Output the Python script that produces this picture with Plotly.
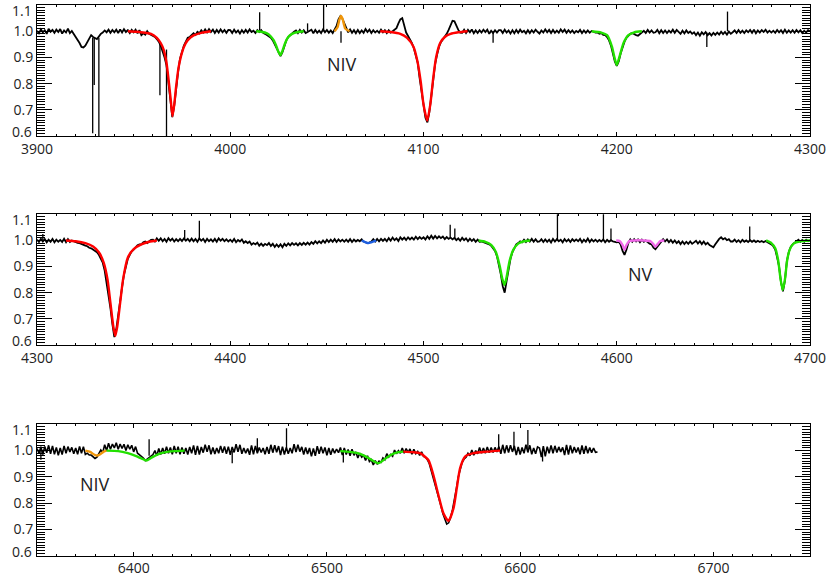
import numpy as np
import plotly.graph_objects as go

# ---------------- Panel 1 : 3900-4300 A (1 A sampling) ----------------
wl1 = np.arange(3900, 4300.1, 1)
flux1 = [
    1.002, 0.992, 1.007, 0.996, 1.004, 0.990, 1.009, 0.998, 1.005, 0.994, 1.006, 0.997, 1.008, 0.991, 1.003, 0.995, 1.010, 0.993, 1.001, 0.990,  # 3900
    0.982, 0.970, 0.955, 0.940, 0.938, 0.945, 0.958, 0.975, 0.985, 0.978, 0.975, 0.970, 0.980, 0.990, 0.995, 1.003, 0.996, 1.006, 0.994, 1.005,  # 3920
    0.996, 1.006, 0.993, 1.007, 0.995, 1.008, 0.997, 1.004, 0.993, 1.005, 0.996, 1.006, 0.992, 1.004, 0.985, 0.992, 0.987, 1.000, 0.990, 0.987,  # 3940
    0.982, 0.978, 0.970, 0.960, 0.945, 0.925, 0.900, 0.870, 0.810, 0.740, 0.672, 0.715, 0.785, 0.845, 0.895, 0.925, 0.945, 0.960, 0.975, 0.978,  # 3960
    0.985, 0.992, 0.986, 0.998, 0.992, 1.004, 0.995, 1.007, 0.996, 1.008, 0.997, 1.006, 0.993, 1.005, 0.995, 1.007, 0.996, 1.005, 0.994, 1.005,  # 3980
    1.004, 0.993, 1.006, 0.995, 1.003, 0.991, 1.004, 0.994, 1.005, 0.995, 1.007, 0.997, 1.002, 0.993, 1.004, 0.997, 1.004, 0.994, 0.990, 0.986,  # 4000
    0.982, 0.975, 0.965, 0.950, 0.935, 0.915, 0.905, 0.920, 0.948, 0.965, 0.978, 0.986, 0.992, 0.998, 1.003, 0.993, 1.005, 0.995, 1.004, 0.993,  # 4020
    0.997, 1.003, 1.006, 0.992, 1.005, 0.994, 1.002, 0.993, 1.007, 0.996, 1.005, 0.994, 1.003, 0.993, 1.004, 1.020, 1.045, 1.058, 1.048, 1.030,  # 4040
    1.008, 0.996, 1.007, 0.994, 1.004, 0.992, 1.005, 0.993, 1.003, 0.994, 1.008, 0.997, 1.006, 0.993, 1.004, 0.995, 1.002, 0.994, 1.006, 0.996,  # 4060
    1.004, 0.993, 1.004, 0.995, 1.000, 1.005, 1.012, 1.030, 1.045, 1.050, 1.020, 0.995, 0.982, 0.970, 0.955, 0.935, 0.910, 0.880, 0.820, 0.770,  # 4080
    0.715, 0.670, 0.652, 0.690, 0.750, 0.815, 0.875, 0.910, 0.940, 0.958, 0.968, 0.982, 0.990, 1.005, 1.020, 1.040, 1.038, 1.020, 1.005, 0.995,  # 4100
    0.994, 1.006, 0.993, 1.005, 0.996, 1.007, 0.992, 1.003, 0.993, 1.004, 0.995, 1.006, 0.997, 1.006, 0.990, 1.002, 0.993, 1.004, 0.995, 1.004,  # 4120
    1.004, 0.993, 1.006, 0.995, 1.003, 0.991, 1.004, 0.992, 1.005, 0.994, 1.006, 0.996, 1.002, 0.992, 1.004, 0.993, 1.004, 0.995, 1.006, 0.998,  # 4140
    0.991, 1.003, 0.995, 1.007, 0.996, 1.005, 0.993, 1.005, 0.994, 1.002, 0.994, 1.007, 0.997, 1.006, 0.994, 1.004, 0.995, 1.003, 0.993, 1.001,  # 4160
    0.996, 1.005, 0.993, 1.003, 0.994, 1.003, 0.994, 1.001, 0.997, 0.995, 0.995, 0.990, 0.993, 0.986, 0.985, 0.978, 0.965, 0.945, 0.915, 0.885,  # 4180
    0.868, 0.885, 0.915, 0.940, 0.960, 0.975, 0.982, 0.990, 0.993, 0.988, 0.985, 0.983, 0.990, 0.997, 1.002, 0.993, 1.005, 0.995, 1.003, 0.994,  # 4200
    0.996, 1.005, 0.992, 1.004, 0.993, 1.003, 0.993, 1.002, 0.995, 1.006, 0.994, 1.005, 0.997, 0.990, 1.002, 0.992, 1.003, 0.993, 0.999, 0.990,  # 4220
    0.996, 0.985, 0.995, 0.983, 0.996, 0.988, 0.997, 0.985, 0.993, 0.984, 0.994, 0.986, 0.995, 0.987, 0.998, 0.989, 0.997, 0.987, 0.999, 0.990,  # 4240
    0.996, 1.003, 0.993, 1.004, 0.994, 1.002, 0.993, 1.003, 0.996, 1.005, 0.994, 1.006, 0.992, 1.003, 0.995, 1.004, 0.997, 1.006, 0.995, 1.002,  # 4260
    0.995, 1.002, 0.994, 1.005, 0.996, 1.004, 0.993, 1.006, 0.994, 1.003, 0.995, 1.004, 0.994, 1.005, 0.996, 1.004, 0.993, 1.002, 0.995, 1.004,  # 4280
    1.000]
spk1_wl = [3928.8, 3929.6, 3932.0, 3963.6, 3967.0, 4015.2, 4040.0, 4048.3, 4057.3, 4136.0, 4246.6, 4257.3]
spk1_base = [0.975, 0.975, 0.975, 0.955, 0.930, 1.000, 1.000, 1.000, 1.000, 1.000, 0.995, 1.000]
spk1_tip = [0.610, 0.795, 0.580, 0.756, 0.580, 1.072, 1.030, 1.130, 0.956, 0.956, 0.940, 1.075]

heps_wl = [3947, 3952, 3956, 3959, 3962, 3964, 3965.5, 3967, 3968.3, 3969.3, 3970.1, 3971, 3972, 3973.2, 3974.5, 3976, 3978, 3981, 3985, 3990]
heps_fx = [1.0, 0.998, 0.994, 0.99, 0.975, 0.955, 0.93, 0.88, 0.80, 0.73, 0.676, 0.72, 0.79, 0.86, 0.905, 0.94, 0.966, 0.984, 0.994, 1.0]
hei4026_wl = [4013.4, 4016, 4019, 4021, 4022.5, 4024, 4025, 4026, 4027, 4028.4, 4030, 4032, 4035, 4038]
hei4026_fx = [1.0, 0.998, 0.992, 0.98, 0.965, 0.94, 0.92, 0.909, 0.925, 0.955, 0.978, 0.99, 0.997, 1.0]
niv4058_wl = [4054, 4055.5, 4056.5, 4057.3, 4058.2, 4059.5, 4061.7]
niv4058_fx = [1.0, 1.015, 1.045, 1.058, 1.045, 1.01, 1.0]
hdel_wl = [4077.6, 4083, 4088, 4091.5, 4094.8, 4097, 4098.5, 4100, 4101.9, 4103.5, 4105, 4106.5, 4108.6, 4111, 4114, 4118, 4122.8]
hdel_fx = [1.0, 0.997, 0.99, 0.975, 0.941, 0.88, 0.81, 0.72, 0.659, 0.72, 0.82, 0.90, 0.955, 0.978, 0.99, 0.996, 1.0]
heii4200_wl = [4187, 4192, 4195, 4197.5, 4198.7, 4200, 4201.5, 4203.5, 4206, 4209, 4213]
heii4200_fx = [1.0, 0.995, 0.985, 0.941, 0.903, 0.871, 0.905, 0.955, 0.985, 0.996, 1.0]

# ---------------- Panel 2 : 4300-4700 A ----------------
wl2 = np.arange(4300, 4700.1, 1)
flux2 = [
    1.003, 0.994, 1.006, 0.996, 1.005, 0.993, 1.003, 0.995, 1.006, 0.993, 1.003, 0.995, 1.002, 0.994, 1.006, 0.993, 1.005, 0.994, 1.000, 0.996,  # 4300
    0.993, 0.991, 0.990, 0.986, 0.982, 0.980, 0.978, 0.972, 0.970, 0.966, 0.962, 0.955, 0.945, 0.932, 0.915, 0.885, 0.840, 0.790, 0.740, 0.680,  # 4320
    0.630, 0.660, 0.720, 0.770, 0.820, 0.870, 0.905, 0.930, 0.945, 0.958, 0.965, 0.975, 0.982, 0.985, 0.985, 0.993, 0.996, 0.990, 0.998, 1.002,  # 4340
    1.003, 0.996, 1.008, 0.999, 1.008, 0.997, 1.006, 0.995, 1.009, 0.999, 1.007, 0.996, 1.005, 0.997, 1.006, 0.998, 1.008, 0.999, 1.006, 0.997,  # 4360
    1.007, 0.997, 1.006, 0.995, 1.008, 0.999, 1.006, 0.994, 1.006, 0.997, 1.004, 0.996, 1.006, 0.995, 1.008, 0.999, 1.006, 0.997, 1.004, 0.996,  # 4380
    1.003, 0.995, 1.006, 0.993, 1.002, 0.996, 1.004, 0.991, 0.997, 0.990, 0.996, 0.984, 0.990, 0.985, 0.992, 0.980, 0.988, 0.979, 0.987, 0.982,  # 4400
    0.990, 0.979, 0.987, 0.975, 0.985, 0.976, 0.985, 0.974, 0.987, 0.979, 0.989, 0.981, 0.990, 0.983, 0.989, 0.981, 0.990, 0.983, 0.991, 0.984,  # 4420
    0.992, 0.984, 0.994, 0.987, 0.997, 0.989, 0.997, 0.990, 1.000, 0.991, 1.003, 0.994, 1.003, 0.995, 1.005, 0.994, 1.004, 0.996, 1.003, 0.995,  # 4440
    1.003, 0.995, 1.005, 0.994, 1.003, 0.996, 1.002, 0.997, 1.004, 0.996, 0.993, 0.990, 0.992, 0.996, 1.005, 0.996, 1.006, 0.997, 1.006, 0.998,  # 4460
    1.006, 0.997, 1.009, 0.999, 1.011, 1.001, 1.008, 0.998, 1.012, 1.003, 1.011, 1.002, 1.012, 1.004, 1.011, 1.003, 1.014, 1.005, 1.013, 1.006,  # 4480
    1.012, 1.004, 1.016, 1.006, 1.018, 1.007, 1.017, 1.008, 1.016, 1.009, 1.015, 1.005, 1.013, 1.006, 1.011, 1.004, 1.010, 1.001, 1.008, 0.999,  # 4500
    1.010, 1.001, 1.008, 0.997, 1.007, 0.998, 1.005, 0.995, 1.003, 0.995, 0.996, 0.993, 0.990, 0.990, 0.985, 0.980, 0.972, 0.960, 0.940, 0.910,  # 4520
    0.870, 0.825, 0.800, 0.845, 0.890, 0.930, 0.955, 0.972, 0.985, 0.990, 0.997, 0.993, 1.003, 0.994, 1.004, 0.996, 1.006, 0.995, 1.005, 0.995,  # 4540
    0.996, 1.005, 0.994, 1.004, 0.995, 1.003, 0.992, 1.006, 0.996, 1.005, 0.997, 1.003, 0.993, 1.005, 0.996, 1.004, 0.994, 1.005, 0.997, 1.004,  # 4560
    0.997, 1.006, 0.993, 1.003, 0.995, 1.007, 0.994, 1.004, 0.996, 1.003, 0.995, 1.002, 0.996, 1.004, 0.993, 1.002, 0.995, 1.001, 0.996, 0.995,  # 4580
    0.993, 0.995, 0.985, 0.960, 0.945, 0.965, 0.990, 1.004, 0.995, 1.005, 0.996, 1.004, 0.993, 1.003, 0.995, 1.000, 0.993, 0.988, 0.985, 0.972,  # 4600
    0.966, 0.975, 0.985, 0.997, 1.005, 0.996, 1.004, 0.993, 1.002, 0.991, 1.000, 0.990, 0.997, 0.986, 0.996, 0.986, 0.995, 0.987, 0.996, 0.987,  # 4620
    0.992, 0.999, 0.988, 0.997, 0.986, 0.996, 0.985, 0.991, 0.982, 0.978, 0.974, 0.985, 0.996, 1.006, 1.012, 1.004, 1.009, 1.001, 1.005, 0.996,  # 4640
    0.996, 1.003, 0.994, 1.001, 0.993, 1.002, 0.995, 1.000, 0.994, 1.001, 0.995, 1.000, 0.994, 0.999, 0.994, 0.998, 0.993, 0.998, 0.993, 0.990,  # 4660
    0.985, 0.978, 0.965, 0.935, 0.900, 0.840, 0.805, 0.845, 0.920, 0.955, 0.975, 0.985, 0.990, 0.996, 1.003, 0.995, 1.002, 0.995, 1.003, 0.997,  # 4680
    1.001]
spk2_wl = [4303.0, 4376.4, 4384.0, 4513.8, 4516.2, 4569.3, 4593.1, 4597.0, 4668.8]
spk2_base = [1.000, 1.003, 1.003, 1.010, 1.010, 1.000, 1.000, 1.000, 0.997]
spk2_tip = [1.025, 1.040, 1.075, 1.060, 1.046, 1.130, 1.130, 1.046, 1.053]

hgam_wl = [4315, 4320, 4325, 4329, 4332, 4334.5, 4336.5, 4338, 4339.5, 4340.5, 4341.5, 4343, 4344.5, 4347, 4350, 4354, 4358, 4362]
hgam_fx = [1.0, 0.997, 0.99, 0.977, 0.955, 0.915, 0.85, 0.76, 0.67, 0.635, 0.67, 0.76, 0.85, 0.935, 0.967, 0.985, 0.995, 1.0]
hei4471_wl = [4468, 4470, 4471.5, 4473, 4475.5]
hei4471_fx = [0.999, 0.993, 0.990, 0.993, 0.999]
heii4542_wl = [4528.5, 4532, 4535, 4537.5, 4539.5, 4540.7, 4541.9, 4543, 4544.5, 4546.5, 4549, 4552, 4555.2]
heii4542_fx = [1.0, 0.995, 0.983, 0.955, 0.9, 0.855, 0.83, 0.86, 0.92, 0.965, 0.988, 0.997, 1.0]
nv_wl = [4599.7, 4601.5, 4603, 4604, 4605, 4606.5, 4609, 4614, 4617.5, 4619, 4620, 4621, 4622.5, 4624.6]
nv_fx = [1.0, 0.998, 0.982, 0.964, 0.982, 0.998, 1.0, 1.0, 0.997, 0.985, 0.976, 0.985, 0.998, 1.0]
heii4686_wl = [4677.3, 4680, 4682, 4683.5, 4684.8, 4685.9, 4687, 4688.2, 4689.5, 4691.5, 4695, 4700]
heii4686_fx = [1.0, 0.99, 0.97, 0.925, 0.85, 0.81, 0.85, 0.925, 0.965, 0.988, 0.997, 1.0]

# ---------------- Panel 3 : 6350-6750 A ----------------
wl3 = np.arange(6350, 6640.1, 1)
flux3 = [
    1.008, 0.990, 1.015, 0.985, 1.016, 0.992, 1.020, 0.988, 1.018, 0.986, 1.012, 0.982, 1.010, 0.985, 1.018, 0.990, 1.015, 0.995, 1.012, 0.988,  # 6350
    1.010, 0.986, 1.016, 0.990, 1.015, 0.985, 0.990, 0.983, 0.983, 0.978, 0.970, 0.975, 0.990, 1.002, 0.992, 1.022, 1.000, 1.028, 1.005, 1.025,  # 6370
    1.010, 1.030, 1.005, 1.025, 1.008, 1.024, 1.000, 1.022, 1.005, 1.020, 0.995, 1.015, 0.990, 0.985, 0.980, 0.972, 0.962, 0.968, 0.975, 0.980,  # 6390
    0.985, 1.000, 0.980, 1.008, 0.985, 1.010, 0.988, 1.015, 0.990, 1.012, 0.986, 1.018, 0.990, 1.015, 0.986, 1.012, 0.988, 1.010, 0.985, 1.014,  # 6410
    0.990, 1.020, 0.984, 1.018, 0.985, 1.014, 0.992, 1.022, 0.995, 1.020, 0.986, 1.012, 0.987, 1.010, 0.990, 1.018, 0.992, 1.016, 0.988, 1.015,  # 6430
    0.984, 1.014, 0.993, 1.024, 0.995, 1.022, 0.988, 1.010, 0.990, 1.008, 0.984, 1.020, 0.986, 1.018, 0.990, 1.012, 0.993, 1.010, 0.986, 1.014,  # 6450
    0.988, 1.022, 0.992, 1.020, 0.994, 1.017, 0.983, 1.015, 0.985, 1.012, 0.988, 1.010, 0.990, 1.024, 0.994, 1.022, 0.996, 1.014, 0.985, 1.012,  # 6470
    0.987, 1.010, 0.978, 1.008, 0.980, 1.017, 0.988, 1.015, 0.990, 1.012, 0.982, 1.010, 0.984, 1.008, 0.990, 1.006, 0.992, 1.012, 0.983, 1.010,  # 6490
    0.985, 1.004, 0.980, 1.005, 0.982, 0.995, 0.972, 0.990, 0.975, 0.982, 0.962, 0.980, 0.958, 0.965, 0.945, 0.962, 0.948, 0.960, 0.955, 0.972,  # 6510
    0.965, 0.988, 0.975, 0.985, 0.978, 1.002, 0.988, 1.000, 0.990, 1.010, 0.990, 1.008, 0.993, 1.006, 0.986, 1.005, 0.988, 0.997, 0.982, 0.995,  # 6530
    0.978, 0.975, 0.965, 0.950, 0.925, 0.900, 0.870, 0.845, 0.820, 0.790, 0.760, 0.735, 0.720, 0.725, 0.745, 0.775, 0.810, 0.855, 0.900, 0.930,  # 6550
    0.955, 0.968, 0.975, 0.990, 0.980, 1.002, 0.982, 1.000, 0.988, 1.012, 0.990, 1.010, 0.990, 1.014, 0.992, 1.012, 0.993, 1.012, 0.995, 1.015,  # 6570
    0.988, 1.022, 0.990, 1.020, 0.993, 1.020, 0.995, 1.018, 0.983, 1.014, 0.985, 1.012, 0.990, 1.022, 0.993, 1.020, 0.986, 1.010, 0.988, 1.014,  # 6590
    1.010, 0.975, 1.017, 0.978, 1.015, 0.990, 1.020, 0.990, 1.018, 0.993, 1.014, 0.995, 1.012, 0.983, 1.022, 0.985, 1.020, 0.990, 1.014, 0.993,  # 6610
    1.012, 0.986, 1.020, 0.988, 1.018, 0.990, 1.012, 0.992, 1.010, 0.993, 0.995]                                                                 # 6630
spk3_wl = [6352.0, 6408.0, 6451.0, 6464.0, 6479.1, 6508.5, 6588.9, 6596.8, 6604.0, 6611.6]
spk3_base = [1.000, 0.980, 1.000, 1.000, 1.000, 1.000, 1.000, 1.000, 1.000, 1.000]
spk3_tip = [0.965, 1.043, 0.952, 1.047, 1.085, 0.955, 1.062, 1.072, 1.078, 0.958]

niv6380_wl = [6375, 6377.5, 6379.5, 6381, 6382.5, 6384.5, 6386]
niv6380_fx = [1.0, 0.995, 0.985, 0.981, 0.985, 0.996, 1.0]
he6406_wl = [6386, 6392, 6397, 6401, 6404, 6406.6, 6409, 6412, 6416, 6421, 6426.4]
he6406_fx = [1.0, 0.998, 0.99, 0.98, 0.97, 0.962, 0.972, 0.984, 0.993, 0.998, 1.0]
heii6527_wl = [6507, 6512, 6516, 6520, 6523, 6526.7, 6530, 6533, 6536, 6539.6]
heii6527_fx = [0.998, 0.995, 0.99, 0.978, 0.965, 0.952, 0.968, 0.983, 0.992, 0.996]
halp_wl = [6539.6, 6544, 6548.2, 6552.5, 6555.1, 6557.7, 6560.3, 6562.9, 6565.5, 6567.2, 6568.9, 6571.5, 6575.8, 6582.7, 6589.6]
halp_fx = [0.996, 0.994, 0.99, 0.964, 0.907, 0.831, 0.761, 0.732, 0.78, 0.856, 0.932, 0.977, 0.99, 0.996, 1.0]

labels = [("NIV", 4057.8, 0.875, 1), ("NV", 4612.1, 0.871, 2), ("NIV", 6380.2, 0.873, 3)]
y_edge_ticks = [1.1, 0.6]

RED, GREEN, ORANGE, BLUE, MAGENTA = "#FF0000", "#22E000", "#F0960A", "#1E5FE0", "#F068E8"

panels = [
    dict(wl=wl1, fx=flux1, spk=(spk1_wl, spk1_base, spk1_tip), xr=[3900, 4300], t0=3900, lw=1.8,
         dom=[0.7663, 0.9914],
         fits=[(heps_wl, heps_fx, RED), (hei4026_wl, hei4026_fx, GREEN), (niv4058_wl, niv4058_fx, ORANGE),
               (hdel_wl, hdel_fx, RED), (heii4200_wl, heii4200_fx, GREEN)]),
    dict(wl=wl2, fx=flux2, spk=(spk2_wl, spk2_base, spk2_tip), xr=[4300, 4700], t0=4300, lw=1.8,
         dom=[0.4072, 0.6318],
         fits=[(hgam_wl, hgam_fx, RED), (hei4471_wl, hei4471_fx, BLUE), (heii4542_wl, heii4542_fx, GREEN),
               (nv_wl, nv_fx, MAGENTA), (heii4686_wl, heii4686_fx, GREEN)]),
    dict(wl=wl3, fx=flux3, spk=(spk3_wl, spk3_base, spk3_tip), xr=[6350, 6750], t0=6300, lw=1.6,
         dom=[0.0452, 0.2710],
         fits=[(niv6380_wl, niv6380_fx, ORANGE), (he6406_wl, he6406_fx, GREEN),
               (heii6527_wl, heii6527_fx, GREEN), (halp_wl, halp_fx, RED)]),
]

fig = go.Figure()
FONT = dict(family="Open Sans", size=14, color="#222222")
XL = 0.0447
layout = dict(width=828, height=582, margin=dict(l=0, r=0, t=0, b=0),
              paper_bgcolor="white", plot_bgcolor="white", showlegend=False, font=FONT)
anns = []

for i, p in enumerate(panels, start=1):
    xa = "x" if i == 1 else f"x{i}"
    ya = "y" if i == 1 else f"y{i}"
    fig.add_trace(go.Scatter(x=p["wl"], y=p["fx"], mode="lines", line=dict(color="black", width=p["lw"]),
                             xaxis=xa, yaxis=ya, hoverinfo="skip"))
    sx, sy = [], []
    for w, b, t in zip(*p["spk"]):
        sx += [w, w, None]
        sy += [b, t, None]
    fig.add_trace(go.Scatter(x=sx, y=sy, mode="lines", line=dict(color="black", width=1.3),
                             xaxis=xa, yaxis=ya, hoverinfo="skip"))
    for fw, ff, col in p["fits"]:
        fig.add_trace(go.Scatter(x=fw, y=ff, mode="lines",
                                 line=dict(color=col, width=2.4, shape="spline", smoothing=0.6),
                                 xaxis=xa, yaxis=ya, hoverinfo="skip"))
    xkey = "xaxis" if i == 1 else f"xaxis{i}"
    ykey = "yaxis" if i == 1 else f"yaxis{i}"
    layout[xkey] = dict(domain=[XL, 0.9783], anchor=ya, range=[p["xr"][0] - 0.01, p["xr"][1] + 0.01],
                        tick0=p["t0"], dtick=100, ticks="inside", ticklen=4, tickcolor="black",
                        minor=dict(dtick=10, ticks="inside", ticklen=2, tickcolor="black"),
                        showline=True, linecolor="black", linewidth=1, mirror="allticks",
                        showgrid=False, zeroline=False, tickfont=FONT, automargin=False)
    layout[ykey] = dict(domain=p["dom"], anchor=xa, range=[0.5999, 1.1001],
                        tick0=0.6, dtick=0.1, tickformat=".1f", labelalias={"1.1": " ", "0.6": " "},
                        ticks="inside", ticklen=15, tickcolor="black",
                        minor=dict(tick0=0.6, dtick=0.01, ticks="inside", ticklen=8, tickcolor="black"),
                        showline=True, linecolor="black", linewidth=1, mirror="allticks",
                        showgrid=False, zeroline=False, tickfont=FONT, automargin=False)
    # edge labels (1.1 and 0.6) sit just inside the frame, as in the original
    for v in y_edge_ticks:
        anns.append(dict(text=f"{v:.1f}", x=XL, xref="paper", y=v, yref=ya, xanchor="right",
                         yanchor="middle", xshift=-3, yshift=(-5 if v > 1 else 4),
                         showarrow=False, font=FONT))

for txt, x, y, k in labels:
    anns.append(dict(text=txt, x=x, y=y, xref="x" if k == 1 else f"x{k}", yref="y" if k == 1 else f"y{k}",
                     showarrow=False, font=dict(family="Open Sans", size=18, color="#222222")))
layout["annotations"] = anns
fig.update_layout(**layout)
fig.write_html("out.html")
